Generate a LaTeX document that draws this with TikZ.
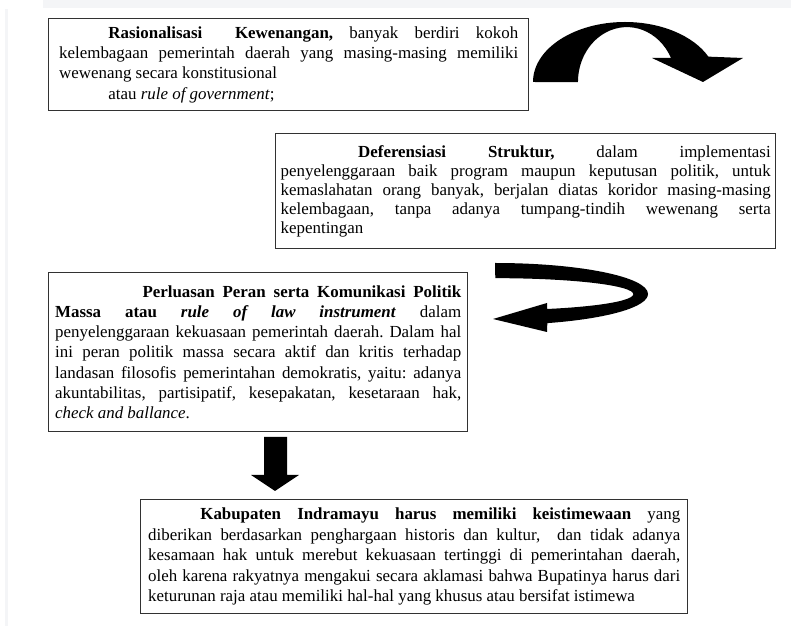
\documentclass[tikz,border=0pt]{standalone}
\usepackage{fontspec}
\setmainfont{Liberation Serif}
\usepackage{tikz}
\usetikzlibrary{positioning}
\definecolor{boxline}{RGB}{50,50,50}
\definecolor{pageband}{RGB}{244,245,247}

\begin{document}
\begin{tikzpicture}[
    x=0.71pt, y=0.71pt,
    textbox/.style={rectangle, draw=boxline, line width=1pt, anchor=north west, inner sep=0pt,
                    align=justify, fill=white,
                    execute at begin node={\frenchspacing\parindent=0pt\tolerance=10000\hbadness=10000\hyphenpenalty=10000}},
    blockarrow/.style={fill=black}
]
    % page size and the faint band at the top
    \useasboundingbox (0,0) rectangle (791,-626);
    \fill[pageband] (43,0) rectangle (791,-8);
    \fill[pageband] (5,-9) rectangle (8,-626);

    % the four text boxes
    \node[textbox, font=\fontsize{12}{14.5}\selectfont, text width=325.9pt,
          minimum width=340.8pt, minimum height=65.3pt] (rasional) at (48,-18)
        {\hspace*{35pt}\textbf{Rasionalisasi\ \ Kewenangan,} banyak berdiri kokoh\linebreak
         kelembagaan pemerintah daerah yang masing-masing memiliki\linebreak
         wewenang secara konstitusional\\
         \hspace*{35pt}atau \textit{rule of government};};

    \node[textbox, font=\fontsize{12}{13.5}\selectfont, text width=347.9pt,
          minimum width=355pt, minimum height=81.7pt] (deferensiasi) at (275,-133)
        {\hspace*{55pt}\textbf{Deferensiasi Struktur,} dalam implementasi\linebreak
         penyelenggaraan baik program maupun keputusan politik, untuk\linebreak
         kemaslahatan orang banyak, berjalan diatas koridor masing-masing\linebreak
         kelembagaan, tanpa adanya tumpang-tindih wewenang serta\linebreak
         kepentingan};

    \node[textbox, font=\fontsize{12}{14.4}\selectfont, text width=288.3pt,
          minimum width=297.5pt, minimum height=112.9pt] (perluasan) at (48,-272)
        {\hspace*{62pt}\textbf{Perluasan Peran serta Komunikasi Politik}\linebreak
         \textbf{Massa atau \textit{rule of law instrument}} dalam\linebreak
         penyelenggaraan kekuasaan pemerintah daerah. Dalam hal\linebreak
         ini peran politik massa secara aktif dan kritis terhadap\linebreak
         landasan filosofis pemerintahan demokratis, yaitu: adanya\linebreak
         akuntabilitas, partisipatif, kesepakatan, kesetaraan hak,\linebreak
         \textit{check and ballance}.};

    \node[textbox, font=\fontsize{12}{14.6}\selectfont, text width=377.7pt,
          minimum width=388.4pt, minimum height=80.9pt] (indramayu) at (140,-499)
        {\hspace*{37pt}\textbf{Kabupaten Indramayu harus memiliki keistimewaan} yang\linebreak
         diberikan berdasarkan penghargaan historis dan kultur,\ \ dan tidak adanya\linebreak
         kesamaan hak untuk merebut kekuasaan tertinggi di pemerintahan daerah,\linebreak
         oleh karena rakyatnya mengakui secara aklamasi bahwa Bupatinya harus dari\linebreak
         keturunan raja atau memiliki hal-hal yang khusus atau bersifat istimewa};

    % curved arrow over to the second box
    \fill[blockarrow] (533,-82) arc[start angle=180, end angle=25, x radius=92, y radius=60]
        -- (743,-58) -- (703,-82) -- (652,-58) -- (671,-58)
        arc[start angle=26, end angle=180, x radius=49, y radius=55] -- cycle;

    % curved arrow back to the third box
    \fill[blockarrow] (495,-263) arc[start angle=90, end angle=-70, x radius=153, y radius=31]
        -- (547,-332) -- (493,-319) -- (547,-303) -- (547,-309)
        arc[start angle=-68, end angle=90, x radius=138, y radius=16] -- cycle;

    % straight arrow down to the last box
    \fill[blockarrow] (264,-437) -- (287,-437) -- (287,-475) -- (299,-475)
        -- (275,-491) -- (251,-475) -- (264,-475) -- cycle;
\end{tikzpicture}
\end{document}
